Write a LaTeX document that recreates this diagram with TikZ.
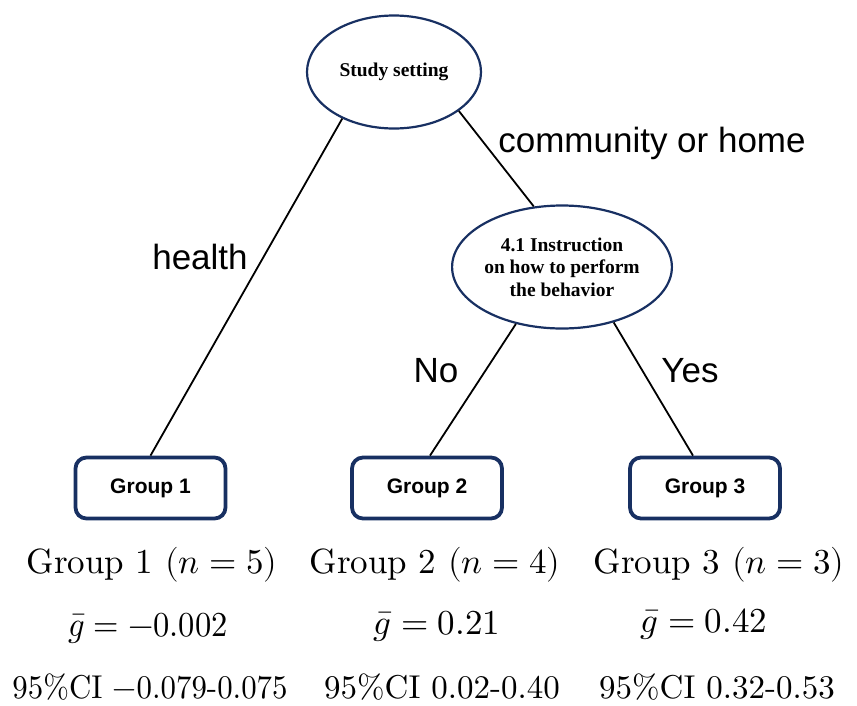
\documentclass[tikz,border=0pt]{standalone}
\usepackage{graphicx}
\usepackage{unicode-math}
\setmainfont{lmroman10-regular.otf}
\setmathfont{latinmodern-math.otf}
\usetikzlibrary{shapes.geometric}
\newfontfamily\lsans{Liberation Sans}
\newfontfamily\lserif{Liberation Serif}
\definecolor{navy}{RGB}{24,48,98}
\tikzset{
  oval/.style={ellipse, draw=navy, line width=2.2pt, inner sep=0pt, align=center, font=\lserif\bfseries\fontsize{19.5}{22.5}\selectfont},
  grp/.style={draw=navy, line width=3.8pt, rounded corners=11pt, minimum width=150pt, minimum height=61pt, inner sep=0pt, font=\lsans\bfseries\fontsize{21}{24}\selectfont},
  conn/.style={line width=1.8pt, black},
  lab/.style={font=\lsans\fontsize{35}{40}\selectfont, inner sep=0pt},
  stat/.style={font=\fontsize{35}{40}\selectfont, inner sep=0pt}
}
\begin{document}
\begin{tikzpicture}[x=1pt,y=-1pt]
\useasboundingbox (0,0) rectangle (857,705);
\node[oval, minimum width=174pt, minimum height=113pt] (top) at (394,72) {Study setting};
\node[oval, minimum width=201pt, minimum height=123pt] (mid) at (562,267) {4.1 Instruction\\on how to perform\\the behavior};
\node[grp] (g1) at (150.5,488) {Group 1};
\node[grp] (g2) at (427,488) {Group 2};
\node[grp] (g3) at (705,488) {Group 3};
\draw[conn] (top.222) -- (g1.north);
\draw[conn] (top.329) -- (mid.115);
\draw[conn] (mid.231) -- ([xshift=3pt]g2.north);
\draw[conn] (mid.313) -- ([xshift=-12pt]g3.north);
\node[lab] (lh) at (200,257) {health};
\node[lab] (lc) at (652,143) {community or home};
\node[lab] (ln) at (436,371) {No};
\node[lab] (ly) at (690,371) {Yes};
\node[stat] (s1) at (152,565) {Group 1 $(n=5)$};
\node[stat] (s2) at (435,565) {Group 2 $(n=4)$};
\node[stat] (s3) at (719,565) {Group 3 $(n=3)$};
\node[stat] (m1) at (148,628) {\scalebox{0.93}[1]{$\bar{g}=-0.002$}};
\node[stat] (m2) at (437,626) {$\bar{g}=0.21$};
\node[stat] (m3) at (704,624) {$\bar{g}=0.42$};
\node[stat, font=\fontsize{33}{38}\selectfont] (c1) at (150,687) {\scalebox{0.935}[1]{95\%CI $-$0.079-0.075}};
\node[stat, font=\fontsize{33}{38}\selectfont] (c2) at (442,687) {95\%CI 0.02-0.40};
\node[stat, font=\fontsize{33}{38}\selectfont] (c3) at (717,687) {95\%CI 0.32-0.53};
\end{tikzpicture}
\end{document}
